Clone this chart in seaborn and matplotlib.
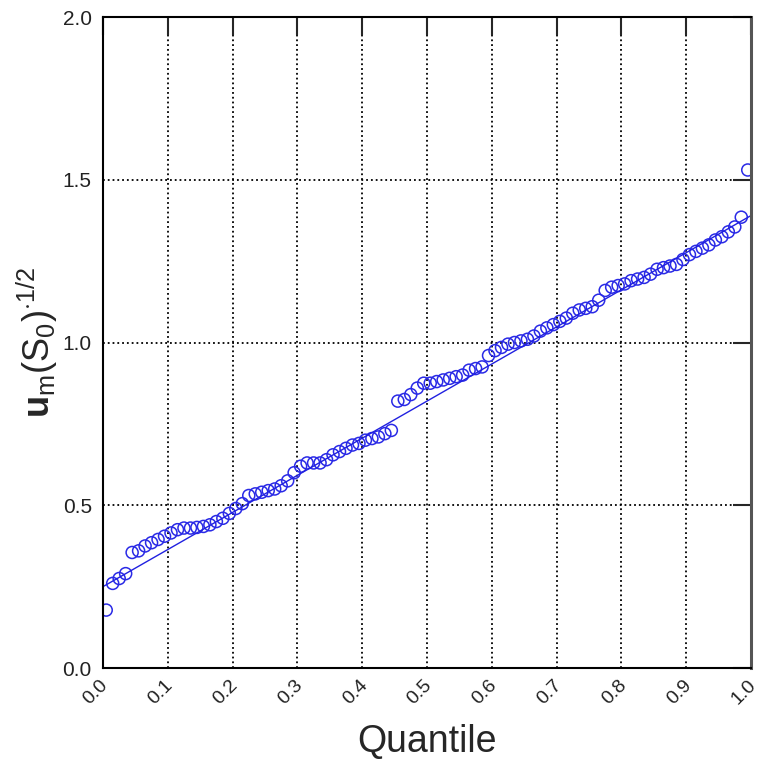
import numpy as np
import pandas as pd
import matplotlib
matplotlib.use("Agg")
import matplotlib.pyplot as plt
import matplotlib.transforms as mtransforms
import seaborn as sns

quantile = [0.005 + 0.01 * i for i in range(100)]
values = [
    0.178, 0.260, 0.275, 0.290, 0.355, 0.360, 0.375, 0.385, 0.395, 0.405,
    0.415, 0.425, 0.430, 0.430, 0.432, 0.435, 0.440, 0.450, 0.460, 0.475,
    0.490, 0.505, 0.530, 0.535, 0.540, 0.545, 0.550, 0.560, 0.575, 0.600,
    0.620, 0.630, 0.630, 0.630, 0.640, 0.655, 0.665, 0.675, 0.685, 0.690,
    0.700, 0.705, 0.710, 0.720, 0.730, 0.820, 0.825, 0.840, 0.860, 0.875,
    0.875, 0.880, 0.885, 0.890, 0.895, 0.900, 0.915, 0.920, 0.925, 0.960,
    0.975, 0.985, 0.995, 1.000, 1.005, 1.010, 1.020, 1.035, 1.045, 1.055,
    1.065, 1.075, 1.090, 1.100, 1.105, 1.110, 1.130, 1.160, 1.170, 1.175,
    1.180, 1.190, 1.195, 1.200, 1.210, 1.225, 1.230, 1.235, 1.240, 1.255,
    1.270, 1.280, 1.290, 1.300, 1.315, 1.325, 1.340, 1.355, 1.385, 1.530,
]

# fitted straight line
fit_x = [0.0, 1.0]
fit_y = [0.25, 1.39]

x_ticks = [round(0.1 * i, 1) for i in range(11)]
y_ticks = [0.0, 0.5, 1.0, 1.5, 2.0]

sns.set_style("white")
plt.rcParams['font.family'] = ['Liberation Sans', 'DejaVu Sans']
plt.rcParams['mathtext.fontset'] = 'custom'
plt.rcParams['mathtext.rm'] = 'Liberation Sans'
plt.rcParams['mathtext.bf'] = 'Liberation Sans:bold'

df = pd.DataFrame({"Quantile": quantile, "Value": values})
fit = pd.DataFrame({"x": fit_x, "y": fit_y})

fig = plt.figure(figsize=(7.65, 7.73), dpi=100)
ax = fig.add_axes([0.1346, 0.1358, 0.8471, 0.8422])

sns.lineplot(data=fit, x="x", y="y", ax=ax, color="#2020e0", linewidth=1.0)
sns.scatterplot(data=df, x="Quantile", y="Value", ax=ax, marker="o",
                s=75, facecolors="none", edgecolor="#2a2ae6", linewidth=1.1)

ax.set_xlim(0, 1)
ax.set_ylim(0, 2)
ax.set_xticks(x_ticks)
ax.set_xticklabels([f"{t:.1f}" for t in x_ticks], rotation=45, fontsize=14,
                   color="#222222")
ax.set_yticks(y_ticks)
ax.set_yticklabels([f"{t:.1f}" for t in y_ticks], fontsize=15, color="#222222")

ax.grid(True, color="black", linestyle=":", linewidth=1.3)
ax.tick_params(direction="in", length=13, width=1.5, top=True, right=True,
               pad=8)
ax.tick_params(axis="x", pad=6)
for side in ax.spines.values():
    side.set_color("black")
    side.set_linewidth(1.5)
ax.spines["right"].set_color("#555555")
ax.spines["right"].set_linewidth(2.2)

# nudge x tick labels a little to the left so the last one fits
# (after tick_params, which resets the label transforms)
shift = mtransforms.ScaledTranslation(-5 / 72, 0, fig.dpi_scale_trans)
for lab in ax.get_xticklabels():
    lab.set_transform(lab.get_transform() + shift)

ax.set_xlabel("Quantile", fontsize=27, labelpad=12)
ax.set_ylabel(r"$\mathbf{u}_{\mathrm{m}}(\mathrm{S}_0)^{\cdot 1/2}$",
              fontsize=26, labelpad=2)

fig.savefig("out.png", dpi=100)
